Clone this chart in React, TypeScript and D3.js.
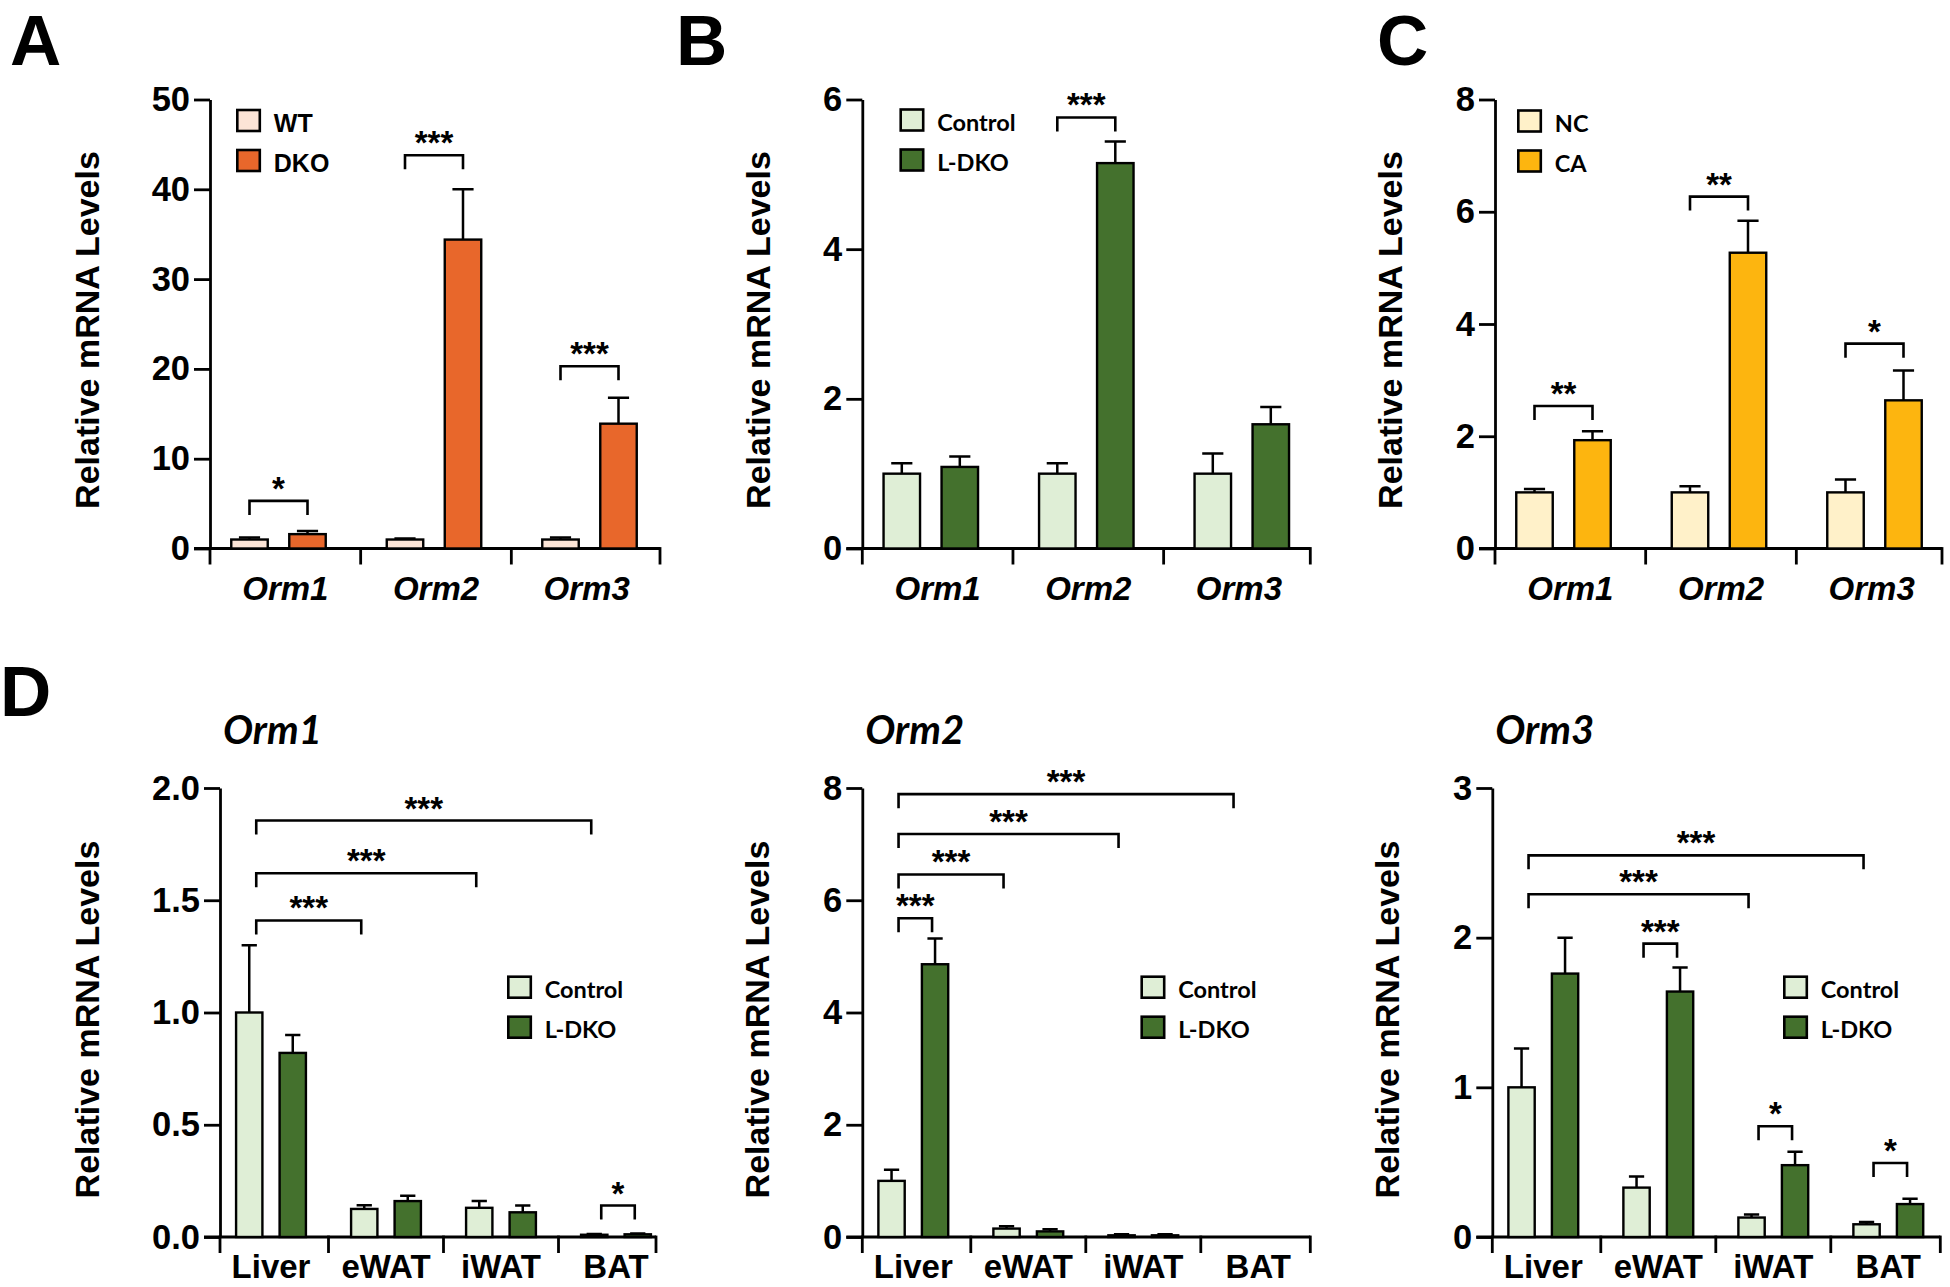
import * as d3 from "d3";
import React, { useEffect, useRef } from "react";

// categories
const genes = ["Orm1", "Orm2", "Orm3"];
const tissues = ["Liver", "eWAT", "iWAT", "BAT"];

// A: WT vs DKO
const aNames = ["WT", "DKO"];
const aWT = [1.0, 1.0, 1.0];
const aWTErr = [0.22, 0.11, 0.22];
const aDKO = [1.6, 34.4, 13.9];
const aDKOErr = [0.36, 5.6, 2.9];
const aTicks = [0, 10, 20, 30, 40, 50];
// [group1, series1, group2, series2, height, label]
const aBrackets = [
  [0, 0, 0, 1, 5.3, "*"],
  [1, 0, 1, 1, 43.8, "***"],
  [2, 0, 2, 1, 20.3, "***"],
];

// B: Control vs L-DKO
const ctrlNames = ["Control", "L-DKO"];
const bCtrl = [1.0, 1.0, 1.0];
const bCtrlErr = [0.14, 0.14, 0.27];
const bKO = [1.09, 5.15, 1.66];
const bKOErr = [0.14, 0.29, 0.23];
const bTicks = [0, 2, 4, 6];
const bBrackets = [[1, 0, 1, 1, 5.76, "***"]];

// C: NC vs CA
const cNames = ["NC", "CA"];
const cNC = [1.0, 1.0, 1.0];
const cNCErr = [0.06, 0.11, 0.23];
const cCA = [1.93, 5.27, 2.64];
const cCAErr = [0.16, 0.57, 0.53];
const cTicks = [0, 2, 4, 6, 8];
const cBrackets = [
  [0, 0, 0, 1, 2.54, "**"],
  [1, 0, 1, 1, 6.27, "**"],
  [2, 0, 2, 1, 3.65, "*"],
];

// D: tissues, Orm1
const d1Ctrl = [1.0, 0.125, 0.13, 0.01];
const d1CtrlErr = [0.3, 0.016, 0.03, 0.003];
const d1KO = [0.82, 0.16, 0.11, 0.012];
const d1KOErr = [0.08, 0.024, 0.03, 0.004];
const d1Ticks = [0, 0.5, 1.0, 1.5, 2.0];
const d1Brackets = [
  [0, 0, 1, 0, 1.41, "***"],
  [0, 0, 2, 0, 1.62, "***"],
  [0, 0, 3, 0, 1.855, "***"],
  [3, 0, 3, 1, 0.14, "*"],
];

// D: Orm2
const d2Ctrl = [1.0, 0.15, 0.03, 0];
const d2CtrlErr = [0.2, 0.04, 0.02, 0];
const d2KO = [4.86, 0.1, 0.03, 0];
const d2KOErr = [0.46, 0.04, 0.02, 0];
const d2Ticks = [0, 2, 4, 6, 8];
const d2Brackets = [
  [0, 0, 0, 1, 5.68, "***"],
  [0, 0, 1, 0, 6.46, "***"],
  [0, 0, 2, 0, 7.18, "***"],
  [0, 0, 3, 0, 7.89, "***"],
];

// D: Orm3
const d3Ctrl = [1.0, 0.33, 0.13, 0.085];
const d3CtrlErr = [0.26, 0.075, 0.02, 0.015];
const d3KO = [1.76, 1.64, 0.48, 0.22];
const d3KOErr = [0.24, 0.16, 0.09, 0.035];
const d3Ticks = [0, 1, 2, 3];
const d3Brackets = [
  [0, 0, 2, 0, 2.29, "***"],
  [0, 0, 3, 0, 2.55, "***"],
  [1, 0, 1, 1, 1.96, "***"],
  [2, 0, 2, 1, 0.74, "*"],
  [3, 0, 3, 1, 0.494, "*"],
];

const ARIAL = "'Liberation Sans', Arial, sans-serif";
const CALIBRI = "Lato, 'Open Sans', sans-serif";

const peach = "#FCE4D6";
const orange = "#E8672B";
const paleGreen = "#DFEED6";
const darkGreen = "#44712D";
const paleYellow = "#FFF1C9";
const gold = "#FDB50F";

const YLABEL = "Relative mRNA Levels";

function drawPanel(svg, p) {
  const top = p.row === "top";
  const yZero = top ? 548.5 : 1237;
  const yTop = top ? 99.5 : 788;
  const g = svg.append("g");

  const y = d3.scaleLinear().domain([0, p.yMax]).range([yZero, yTop]);

  // bar positions
  const groupX = d3
    .scaleBand()
    .domain(p.cats)
    .range(top ? [p.x0 - 9.25, p.x0 + 457.25] : [p.x0 - 6.5, p.x0 + 453.5]);
  const subX = d3
    .scaleBand()
    .domain([0, 1])
    .range([0, groupX.bandwidth()])
    .paddingInner(top ? 0.371 : 0.395)
    .paddingOuter(top ? 0.526 : 0.519);
  const bw = subX.bandwidth();
  const barCenter = (gi, si) => groupX(p.cats[gi]) + subX(si) + bw / 2;
  const groupCenter = (c) => groupX(c) + groupX.bandwidth() / 2;

  // y axis
  const yAxis = g
    .append("g")
    .attr("transform", `translate(${p.x0},0)`)
    .call(
      d3
        .axisLeft(y)
        .tickValues(p.ticks)
        .tickFormat(d3.format(p.fmt))
        .tickSize(16)
        .tickSizeOuter(0)
        .tickPadding(4)
    );
  yAxis.select(".domain").attr("stroke-width", 2.8);
  yAxis.selectAll(".tick line").attr("stroke-width", 2.8);
  yAxis
    .selectAll(".tick text")
    .attr("font-family", ARIAL)
    .attr("font-weight", "bold")
    .attr("font-size", 34.5)
    .attr("fill", "#000");

  // x axis with separator ticks
  const xEnd = p.x0 + p.axisLen;
  g.append("line")
    .attr("x1", p.x0 - 16)
    .attr("x2", xEnd)
    .attr("y1", yZero)
    .attr("y2", yZero)
    .attr("stroke", "#000")
    .attr("stroke-width", 2.8);

  let seps;
  let labelX;
  if (top) {
    const tickX = d3.scaleBand().domain(p.cats).range([p.x0, p.x0 + 452]);
    seps = p.cats.map((c) => tickX(c)).concat([xEnd]);
    labelX = p.cats.map((c) => tickX(c) + tickX.bandwidth() / 2);
  } else {
    const centers = p.cats.map(groupCenter);
    seps = [p.x0]
      .concat(d3.pairs(centers).map(([a, b]) => (a + b) / 2))
      .concat([xEnd]);
    labelX = centers;
  }
  g.selectAll("line.sep")
    .data(seps)
    .enter()
    .append("line")
    .attr("x1", (d) => d)
    .attr("x2", (d) => d)
    .attr("y1", yZero - 1.4)
    .attr("y2", yZero + 16)
    .attr("stroke", "#000")
    .attr("stroke-width", 2.8);

  g.selectAll("text.cat")
    .data(p.cats)
    .enter()
    .append("text")
    .attr("x", (d, i) => labelX[i])
    .attr("y", top ? 600 : 1278)
    .attr("text-anchor", "middle")
    .attr("font-family", ARIAL)
    .attr("font-weight", "bold")
    .attr("font-style", top ? "italic" : "normal")
    .attr("font-size", 33)
    .text((d) => d);

  // bars
  const bars = [];
  p.series.forEach((s, si) => {
    s.values.forEach((v, gi) => {
      bars.push({ gi, si, v, e: s.errs[gi], fill: s.fill });
    });
  });
  const capW = bw * 0.58;

  g.selectAll("line.err")
    .data(bars.filter((d) => d.v > 0))
    .enter()
    .append("path")
    .attr("d", (d) => {
      const cx = barCenter(d.gi, d.si);
      const y1 = y(d.v + d.e);
      return `M${cx},${y(d.v)}V${y1}M${cx - capW / 2},${y1}H${cx + capW / 2}`;
    })
    .attr("fill", "none")
    .attr("stroke", "#000")
    .attr("stroke-width", 2.5);

  g.selectAll("rect.bar")
    .data(bars.filter((d) => d.v > 0))
    .enter()
    .append("rect")
    .attr("x", (d) => groupX(p.cats[d.gi]) + subX(d.si))
    .attr("y", (d) => y(d.v))
    .attr("width", bw)
    .attr("height", (d) => yZero - y(d.v))
    .attr("fill", (d) => d.fill)
    .attr("stroke", "#000")
    .attr("stroke-width", 2.4);

  // significance brackets
  const insetL = top ? 0 : 7;
  const insetR = top ? 0 : -3;
  p.brackets.forEach((b) => {
    const [g1, s1, g2, s2, h, label] = b;
    const xa = barCenter(g1, s1) + insetL;
    const xb = barCenter(g2, s2) + insetR;
    const yy = y(h);
    g.append("path")
      .attr("d", `M${xa},${yy + 14}V${yy}H${xb}V${yy + 14}`)
      .attr("fill", "none")
      .attr("stroke", "#000")
      .attr("stroke-width", 2.6);
    g.append("text")
      .attr("x", (xa + xb) / 2)
      .attr("y", yy - 1)
      .attr("text-anchor", "middle")
      .attr("font-family", ARIAL)
      .attr("font-weight", "bold")
      .attr("font-size", 33)
      .text(label);
  });

  // legend
  const lg = g.append("g");
  p.series.forEach((s, i) => {
    lg.append("rect")
      .attr("x", p.legendX)
      .attr("y", p.legendY + i * 40)
      .attr("width", 22.5)
      .attr("height", 21)
      .attr("fill", s.fill)
      .attr("stroke", "#000")
      .attr("stroke-width", 2.6);
    lg.append("text")
      .attr("x", p.legendX + 36.5)
      .attr("y", p.legendY + i * 40 + 21.5)
      .attr("font-family", p.legendFont)
      .attr("font-weight", "bold")
      .attr("font-size", p.legendFont === ARIAL ? 25 : 23.5)
      .text(s.name);
  });

  // y label
  g.append("text")
    .attr("transform", `translate(${p.yLabelX},${top ? 330 : 1019.5}) rotate(-90)`)
    .attr("text-anchor", "middle")
    .attr("font-family", ARIAL)
    .attr("font-weight", "bold")
    .attr("font-size", 34)
    .text(YLABEL);

  if (p.title) {
    g.append("text")
      .attr("x", p.x0 + 3)
      .attr("y", 744)
      .attr("font-family", CALIBRI)
      .attr("font-weight", "bold")
      .attr("font-style", "italic")
      .attr("font-size", 40)
      .text(p.title);
  }
}

export default function App() {
  const svgRef = useRef(null);

  useEffect(() => {
    const svg = d3.select(svgRef.current);
    svg.selectAll("*").remove();

    const panels = [
      {
        row: "top", x0: 210, axisLen: 450, yMax: 50, ticks: aTicks, fmt: "d", cats: genes,
        series: [
          { name: aNames[0], fill: peach, values: aWT, errs: aWTErr },
          { name: aNames[1], fill: orange, values: aDKO, errs: aDKOErr },
        ],
        brackets: aBrackets, legendX: 237.3, legendY: 110, legendFont: ARIAL, yLabelX: 99,
      },
      {
        row: "top", x0: 862.3, axisLen: 448, yMax: 6, ticks: bTicks, fmt: "d", cats: genes,
        series: [
          { name: ctrlNames[0], fill: paleGreen, values: bCtrl, errs: bCtrlErr },
          { name: ctrlNames[1], fill: darkGreen, values: bKO, errs: bKOErr },
        ],
        brackets: bBrackets, legendX: 900.7, legendY: 109.5, legendFont: CALIBRI, yLabelX: 770,
      },
      {
        row: "top", x0: 1495, axisLen: 447, yMax: 8, ticks: cTicks, fmt: "d", cats: genes,
        series: [
          { name: cNames[0], fill: paleYellow, values: cNC, errs: cNCErr },
          { name: cNames[1], fill: gold, values: cCA, errs: cCAErr },
        ],
        brackets: cBrackets, legendX: 1518.3, legendY: 110.5, legendFont: CALIBRI, yLabelX: 1401.7,
      },
      {
        row: "bottom", x0: 220, axisLen: 436, yMax: 2, ticks: d1Ticks, fmt: ".1f", cats: tissues,
        series: [
          { name: ctrlNames[0], fill: paleGreen, values: d1Ctrl, errs: d1CtrlErr },
          { name: ctrlNames[1], fill: darkGreen, values: d1KO, errs: d1KOErr },
        ],
        brackets: d1Brackets, legendX: 508.3, legendY: 976.7, legendFont: CALIBRI, yLabelX: 99.4,
        title: genes[0],
      },
      {
        row: "bottom", x0: 862.3, axisLen: 448, yMax: 8, ticks: d2Ticks, fmt: "d", cats: tissues,
        series: [
          { name: ctrlNames[0], fill: paleGreen, values: d2Ctrl, errs: d2CtrlErr },
          { name: ctrlNames[1], fill: darkGreen, values: d2KO, errs: d2KOErr },
        ],
        brackets: d2Brackets, legendX: 1141.7, legendY: 976.7, legendFont: CALIBRI, yLabelX: 769,
        title: genes[1],
      },
      {
        row: "bottom", x0: 1492.3, axisLen: 448, yMax: 3, ticks: d3Ticks, fmt: "d", cats: tissues,
        series: [
          { name: ctrlNames[0], fill: paleGreen, values: d3Ctrl, errs: d3CtrlErr },
          { name: ctrlNames[1], fill: darkGreen, values: d3KO, errs: d3KOErr },
        ],
        brackets: d3Brackets, legendX: 1784.3, legendY: 976.7, legendFont: CALIBRI, yLabelX: 1398.5,
        title: genes[2],
      },
    ];
    panels.forEach((p) => drawPanel(svg, p));

    // panel letters
    const letters = [
      ["A", 10, 64.5],
      ["B", 676, 64.5],
      ["C", 1377, 64.5],
      ["D", 0, 716],
    ];
    svg
      .selectAll("text.letter")
      .data(letters)
      .enter()
      .append("text")
      .attr("x", (d) => d[1])
      .attr("y", (d) => d[2])
      .attr("font-family", ARIAL)
      .attr("font-weight", "bold")
      .attr("font-size", 71)
      .text((d) => d[0]);
  }, []);

  return (
    <svg
      ref={svgRef}
      width={1950}
      height={1287}
      style={{ position: "absolute", left: 0, top: 0, background: "#fff" }}
    ></svg>
  );
}
